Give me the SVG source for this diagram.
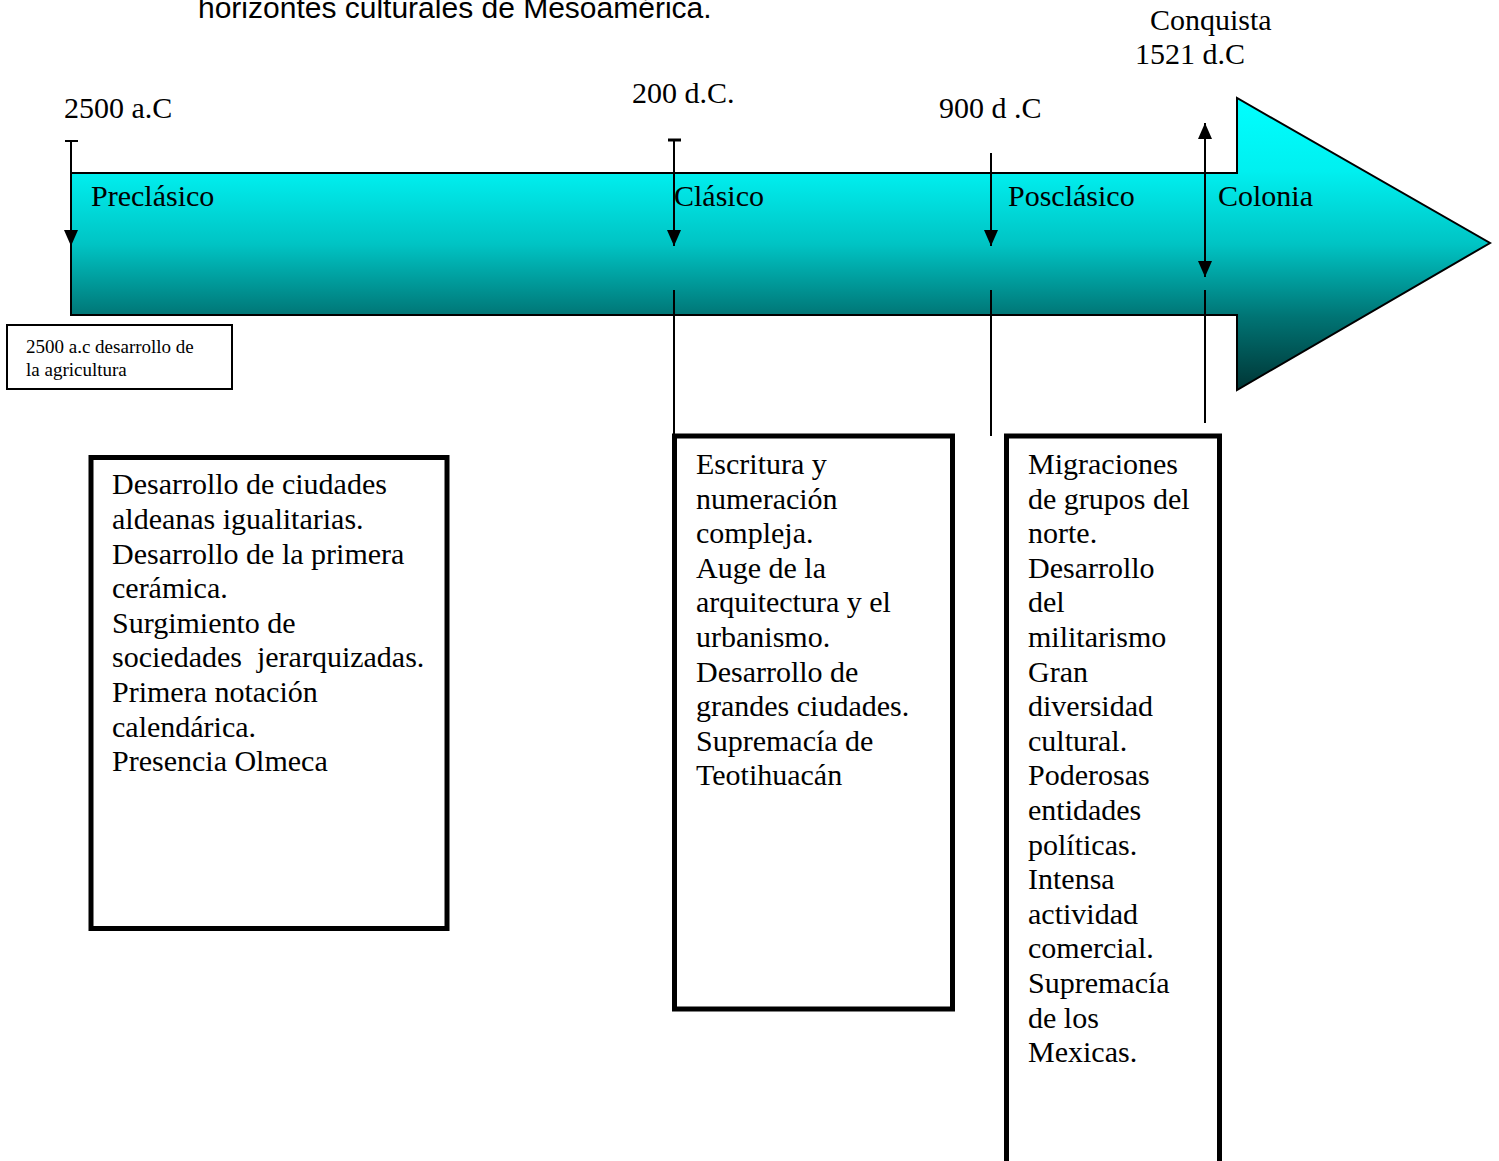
<svg xmlns="http://www.w3.org/2000/svg" width="1499" height="1161" viewBox="0 0 1499 1161">
<style>
.t{font-family:"Liberation Serif","Times New Roman",serif;font-size:30px;fill:#000}
.s{font-family:"Liberation Serif","Times New Roman",serif;font-size:19px;fill:#000}
.h{font-family:"Liberation Sans",Arial,sans-serif;font-size:30px;fill:#000}
.box{fill:#fff;stroke:#000;stroke-width:5}
.ln{stroke:#000;stroke-width:2;fill:none}
</style>
<defs>
<linearGradient id="g" gradientUnits="userSpaceOnUse" x1="0" y1="98" x2="0" y2="390">
<stop offset="0" stop-color="#00ffff"/>
<stop offset="0.25" stop-color="#00f0f0"/>
<stop offset="0.5" stop-color="#00c4c4"/>
<stop offset="0.75" stop-color="#007474"/>
<stop offset="1" stop-color="#003535"/>
</linearGradient>
<marker id="ah" markerUnits="userSpaceOnUse" markerWidth="16" markerHeight="14" viewBox="0 0 16 14" refX="16" refY="7" orient="auto-start-reverse">
<path d="M0,0 L16,7 L0,14 Z" fill="#000"/>
</marker>
</defs>
<rect width="1499" height="1161" fill="#fff"/>
<text class="h" x="198" y="18">horizontes culturales de Mesoamérica.</text>
<g id="timeline">
<path d="M71,173 L1237,173 L1237,98 L1490,243 L1237,390 L1237,315 L71,315 Z" fill="url(#g)" stroke="#000" stroke-width="2"/>
</g>
<g id="labels">
<text class="t" x="64" y="118">2500 a.C</text>
<text class="t" x="632" y="103">200 d.C.</text>
<text class="t" x="939" y="118">900 d .C</text>
<text class="t" x="1150" y="30">Conquista</text>
<text class="t" x="1135" y="64">1521 d.C</text>
<text class="t" x="91" y="206">Preclásico</text>
<text class="t" x="674" y="206">Clásico</text>
<text class="t" x="1008" y="206">Posclásico</text>
<text class="t" x="1218" y="206">Colonia</text>
</g>
<g id="connectors">
<line class="ln" x1="71" y1="141" x2="71" y2="246" marker-end="url(#ah)"/>
<line class="ln" x1="65" y1="141" x2="78" y2="141"/>
<line class="ln" x1="674" y1="140" x2="674" y2="246" marker-end="url(#ah)"/>
<line x1="668" y1="140" x2="681" y2="140" stroke="#000" stroke-width="3"/>
<line class="ln" x1="674" y1="290" x2="674" y2="436"/>
<line class="ln" x1="991" y1="153" x2="991" y2="246" marker-end="url(#ah)"/>
<line class="ln" x1="991" y1="290" x2="991" y2="436"/>
<line class="ln" x1="1205" y1="123" x2="1205" y2="277" marker-start="url(#ah)" marker-end="url(#ah)"/>
<line class="ln" x1="1205" y1="290" x2="1205" y2="423"/>
</g>
<g id="agricultura">
<rect x="7" y="325" width="225" height="64" fill="#fff" stroke="#000" stroke-width="2"/>
<text class="s" x="26" y="353">2500 a.c desarrollo de</text>
<text class="s" x="26" y="376">la agricultura</text>
</g>
<g id="box-preclasico">
<rect class="box" x="91" y="457.5" width="356" height="471"/>
<text class="t" x="112" y="494">Desarrollo de ciudades</text>
<text class="t" x="112" y="529">aldeanas igualitarias.</text>
<text class="t" x="112" y="563.5">Desarrollo de la primera</text>
<text class="t" x="112" y="598">cerámica.</text>
<text class="t" x="112" y="633">Surgimiento de</text>
<text class="t" x="112" y="667" xml:space="preserve">sociedades  jerarquizadas.</text>
<text class="t" x="112" y="702">Primera notación</text>
<text class="t" x="112" y="737">calendárica.</text>
<text class="t" x="112" y="771">Presencia Olmeca</text>
</g>
<g id="box-clasico">
<rect class="box" x="674.5" y="436" width="278" height="573"/>
<text class="t" x="696" y="474">Escritura y</text>
<text class="t" x="696" y="508.6">numeración</text>
<text class="t" x="696" y="543.2">compleja.</text>
<text class="t" x="696" y="577.8">Auge de la</text>
<text class="t" x="696" y="612.4">arquitectura y el</text>
<text class="t" x="696" y="647">urbanismo.</text>
<text class="t" x="696" y="681.6">Desarrollo de</text>
<text class="t" x="696" y="716.2">grandes ciudades.</text>
<text class="t" x="696" y="750.8">Supremacía de</text>
<text class="t" x="696" y="785.4">Teotihuacán</text>
</g>
<g id="box-posclasico">
<rect class="box" x="1006.5" y="436" width="213" height="735"/>
<text class="t" x="1028" y="474">Migraciones</text>
<text class="t" x="1028" y="508.6">de grupos del</text>
<text class="t" x="1028" y="543.2">norte.</text>
<text class="t" x="1028" y="577.8">Desarrollo</text>
<text class="t" x="1028" y="612.4">del</text>
<text class="t" x="1028" y="647">militarismo</text>
<text class="t" x="1028" y="681.6">Gran</text>
<text class="t" x="1028" y="716.2">diversidad</text>
<text class="t" x="1028" y="750.8">cultural.</text>
<text class="t" x="1028" y="785.4">Poderosas</text>
<text class="t" x="1028" y="820">entidades</text>
<text class="t" x="1028" y="854.6">políticas.</text>
<text class="t" x="1028" y="889.2">Intensa</text>
<text class="t" x="1028" y="923.8">actividad</text>
<text class="t" x="1028" y="958.4">comercial.</text>
<text class="t" x="1028" y="993">Supremacía</text>
<text class="t" x="1028" y="1027.6">de los</text>
<text class="t" x="1028" y="1062.2">Mexicas.</text>
</g>
</svg>
